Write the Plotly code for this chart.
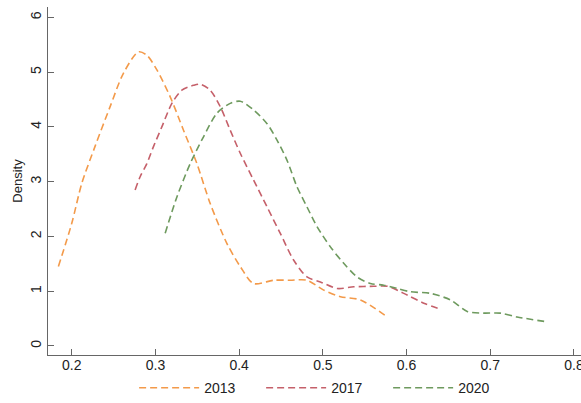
import plotly.graph_objects as go

x_2013 = [0.184, 0.200, 0.212, 0.2277, 0.2458, 0.2617, 0.2797, 0.2897, 0.3017, 0.3176, 0.3335, 0.3495, 0.3654, 0.3854, 0.4013, 0.4172, 0.4412, 0.461, 0.481, 0.501, 0.521, 0.545, 0.5768]
y_2013 = [1.45, 2.24, 2.97, 3.64, 4.37, 4.98, 5.37, 5.31, 5.04, 4.55, 3.94, 3.33, 2.60, 1.87, 1.45, 1.14, 1.20, 1.20, 1.20, 1.02, 0.90, 0.84, 0.53]

x_2017 = [0.2757, 0.2817, 0.2897, 0.2976, 0.3076, 0.3196, 0.3315, 0.3455, 0.3535, 0.3654, 0.3774, 0.3893, 0.4013, 0.4172, 0.4333, 0.449, 0.465, 0.481, 0.497, 0.517, 0.537, 0.561, 0.577, 0.6007, 0.6206, 0.6406]
y_2017 = [2.85, 3.09, 3.33, 3.64, 4.00, 4.43, 4.67, 4.76, 4.78, 4.67, 4.37, 3.94, 3.52, 3.03, 2.54, 2.06, 1.57, 1.26, 1.17, 1.05, 1.08, 1.09, 1.09, 0.93, 0.78, 0.67]

x_2020 = [0.3116, 0.3256, 0.3415, 0.3574, 0.3734, 0.3893, 0.4013, 0.4172, 0.4333, 0.4452, 0.4572, 0.469, 0.481, 0.493, 0.509, 0.5249, 0.5409, 0.5568, 0.5727, 0.5887, 0.6047, 0.6286, 0.6525, 0.6725, 0.692, 0.712, 0.732, 0.768]
y_2020 = [2.06, 2.72, 3.33, 3.82, 4.25, 4.43, 4.47, 4.31, 4.06, 3.76, 3.39, 2.91, 2.54, 2.18, 1.81, 1.51, 1.26, 1.14, 1.11, 1.05, 0.99, 0.96, 0.84, 0.63, 0.60, 0.60, 0.53, 0.44]

x_ticks = [0.2, 0.3, 0.4, 0.5, 0.6, 0.7, 0.8]
x_tick_labels = ["0.2", "0.3", "0.4", "0.5", "0.6", "0.7", "0.8"]
y_ticks = [0, 1, 2, 3, 4, 5, 6]

series = [
    ("2013", x_2013, y_2013, "#F39A4A"),
    ("2017", x_2017, y_2017, "#C5606A"),
    ("2020", x_2020, y_2020, "#6E9A5E"),
]

fig = go.Figure()
for name, xs, ys, col in series:
    fig.add_trace(go.Scatter(
        x=xs, y=ys, mode="lines", name=name,
        line=dict(color=col, width=1.6, dash="7px,4px", shape="spline", smoothing=0.8),
    ))

fam = "Liberation Sans, Arial, sans-serif"
font = dict(family=fam, size=14, color="#222")

fig.update_layout(
    width=581, height=403,
    margin=dict(l=48, r=0, t=7, b=48),
    paper_bgcolor="white", plot_bgcolor="white",
    font=font,
    showlegend=True,
    legend=dict(orientation="h", x=0.519, xanchor="center",
                yref="container", y=0.037, yanchor="middle",
                font=dict(family=fam, size=14, color="#222"),
                entrywidth=52, entrywidthmode="pixels", itemwidth=60, bgcolor="rgba(0,0,0,0)"),
)
fig.update_xaxes(
    range=[0.1716, 0.8084], tickvals=x_ticks, ticktext=x_tick_labels,
    showgrid=False, zeroline=False, showline=True, linecolor="#666", linewidth=1.2,
    ticks="inside", ticklen=6, tickcolor="#666", tickwidth=1.2,
    tickfont=font, automargin=False, ticklabelstandoff=-3, ticklabeloverflow="allow",
)
fig.update_yaxes(
    range=[-0.165, 6.19], tickvals=y_ticks,
    showgrid=False, zeroline=False, showline=True, linecolor="#666", linewidth=1.2,
    ticks="inside", ticklen=6, tickcolor="#666", tickwidth=1.2,
    tickangle=-90, tickfont=font, automargin=False,
    title=dict(text="Density", font=dict(family=fam, size=13, color="#222"), standoff=2),
)

fig.write_html("out.html", config={"displayModeBar": False},
               post_script="document.body.style.margin='0';")
